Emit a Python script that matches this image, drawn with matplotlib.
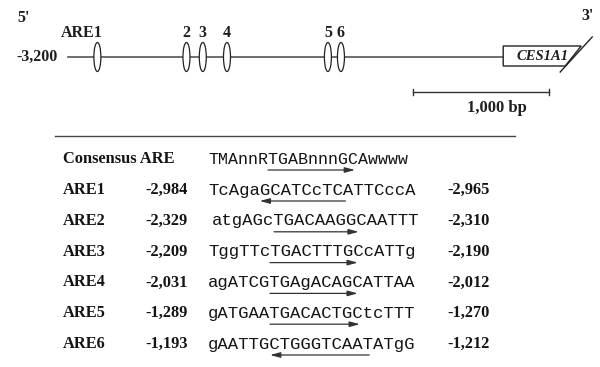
import matplotlib
matplotlib.use("Agg")
import matplotlib.pyplot as plt
from matplotlib.patches import Ellipse, Polygon

# ---------------- data ----------------
are_names = ["ARE1", "ARE2", "ARE3", "ARE4", "ARE5", "ARE6"]
map_labels = ["ARE1", "2", "3", "4", "5", "6"]
are_start = [-2984, -2329, -2209, -2031, -1289, -1193]
are_end = [-2965, -2310, -2190, -2012, -1270, -1212]
start_labels = ["-2,984", "-2,329", "-2,209", "-2,031", "-1,289", "-1,193"]
end_labels = ["-2,965", "-2,310", "-2,190", "-2,012", "-1,270", "-1,212"]
sequences = ["TcAgaGCATCcTCATTCccA", "atgAGcTGACAAGGCAATTT", "TggTTcTGACTTTGCcATTg",
             "agATCGTGAgACAGCATTAA", "gATGAATGACACTGCtcTTT", "gAATTGCTGGGTCAATATgG"]
# arrow under the core motif: (first char, last char position, direction)
arrow_from = [5.0, 6.0, 6.0, 6.0, 6.0, 6.0]
arrow_to = [13.3, 14.2, 14.5, 14.5, 14.7, 15.6]
arrow_dir = [-1, 1, 1, 1, 1, -1]
consensus_seq = "TMAnnRTGABnnnGCAwwww"
consensus_arrow = (6.0, 14.7, 1)
region_start = -3200
gene_start = 0
scale_len = 1000

# ---------------- figure ----------------
W, H, DPI = 600, 367, 100
fig = plt.figure(figsize=(W / DPI, H / DPI), dpi=DPI)
ax = fig.add_axes([0, 0, 1, 1])
ax.set_xlim(0, W)
ax.set_ylim(H, 0)
ax.axis("off")

# map axes: x in bp
px_per_bp = 0.136
x0_px = 68
bp_left = region_start - x0_px / px_per_bp
axm = fig.add_axes([0, 0, 1, 1])
axm.set_xlim(bp_left, bp_left + W / px_per_bp)
axm.set_ylim(H, 0)
axm.axis("off")
axm.patch.set_alpha(0)

serif = "Liberation Serif"
mono = "Liberation Mono"
line_y = 57
ink = "#1e1e1e"
fs_map = 11.5

axm.plot([region_start, gene_start], [line_y, line_y], color="#555555", lw=1.2, zorder=1)
for s, lab in zip(are_start, map_labels):
    axm.add_patch(Ellipse((s, line_y), 7 / px_per_bp, 29, facecolor="white",
                          edgecolor="#222222", lw=0.9, zorder=3))
    axm.text(s - (16 / px_per_bp if lab == "ARE1" else 0), 33, lab, ha="center", va="center",
             fontsize=fs_map, fontweight="bold", family=serif, color=ink)

axm.text(region_start - 10 / px_per_bp, line_y, "-3,200", ha="right", va="center",
         fontsize=fs_map, fontweight="bold", family=serif, color=ink)
ax.text(24, 18, "5'", ha="center", va="center", fontsize=fs_map, fontweight="bold",
        family=serif, color=ink)
ax.text(588, 16, "3'", ha="center", va="center", fontsize=fs_map, fontweight="bold",
        family=serif, color=ink)

# gene box
g0 = gene_start
box = Polygon([(g0, 46), (g0 + 78 / px_per_bp, 46),
               (g0 + 62 / px_per_bp, 66), (g0, 66)], closed=True,
              facecolor="white", edgecolor="#222222", lw=1.0, zorder=2)
axm.add_patch(box)
axm.plot([g0 + 57 / px_per_bp, g0 + 89 / px_per_bp], [72, 37], color="#222222", lw=1.0, zorder=3)
axm.text(g0 + 39 / px_per_bp, 56.5, "CES1A1", ha="center", va="center", fontsize=10.5,
         fontweight="bold", style="italic", family=serif, color=ink, zorder=4)

# scale bar
sb0 = -663
axm.plot([sb0, sb0 + scale_len], [92, 92], color="#333333", lw=1.0)
for xx in (sb0, sb0 + scale_len):
    axm.plot([xx, xx], [89, 95], color="#333333", lw=1.0)
ax.text(497, 108, "1,000 bp", ha="center", va="center", fontsize=12, fontweight="bold",
        family=serif, color=ink)

# separator
ax.plot([55, 515], [136, 136], color="#444444", lw=1.0)

# ---------------- table ----------------
lab_x = 63
num1_x = 188
seq_x = 208
num2_x = 490
row_y0 = 190
row_dy = 30.8
fs_seq = 12.4
fs_cons = 12.0
fs_lab = 11.8
arrow_gap = 11
col = "#141414"


def char_w(fs):
    return 0.6 * fs * DPI / 72


def draw_arrow(x_start, y, i0, i1, d, fs):
    cw = char_w(fs)
    xa = x_start + i0 * cw
    xb = x_start + i1 * cw
    if d < 0:
        xa, xb = xb, xa
    ax.annotate("", xy=(xb, y), xytext=(xa, y),
                arrowprops=dict(arrowstyle="-|>,head_length=0.6,head_width=0.16",
                                lw=0.9, color="#333333", shrinkA=0, shrinkB=0))


cy = 159
ax.text(lab_x, cy, "Consensus ARE", ha="left", va="center", fontsize=fs_lab,
        fontweight="bold", family=serif, color=col)
ax.text(seq_x, cy, consensus_seq, ha="left", va="center", fontsize=fs_cons,
        family=mono, color=col)
draw_arrow(seq_x, cy + arrow_gap, consensus_arrow[0], consensus_arrow[1],
           consensus_arrow[2], fs_cons)

for i, name in enumerate(are_names):
    y = row_y0 + i * row_dy
    ax.text(lab_x, y, name, ha="left", va="center", fontsize=fs_lab, fontweight="bold",
            family=serif, color=col)
    ax.text(num1_x, y, start_labels[i], ha="right", va="center", fontsize=fs_lab,
            fontweight="bold", family=serif, color=col)
    xs = seq_x + (4 if name == "ARE2" else 0)
    ax.text(xs, y, sequences[i], ha="left", va="center", fontsize=fs_seq, family=mono,
            color=col)
    draw_arrow(xs, y + arrow_gap, arrow_from[i], arrow_to[i], arrow_dir[i], fs_seq)
    ax.text(num2_x, y, end_labels[i], ha="right", va="center", fontsize=fs_lab,
            fontweight="bold", family=serif, color=col)

fig.savefig("out.png", dpi=DPI, facecolor="white")
